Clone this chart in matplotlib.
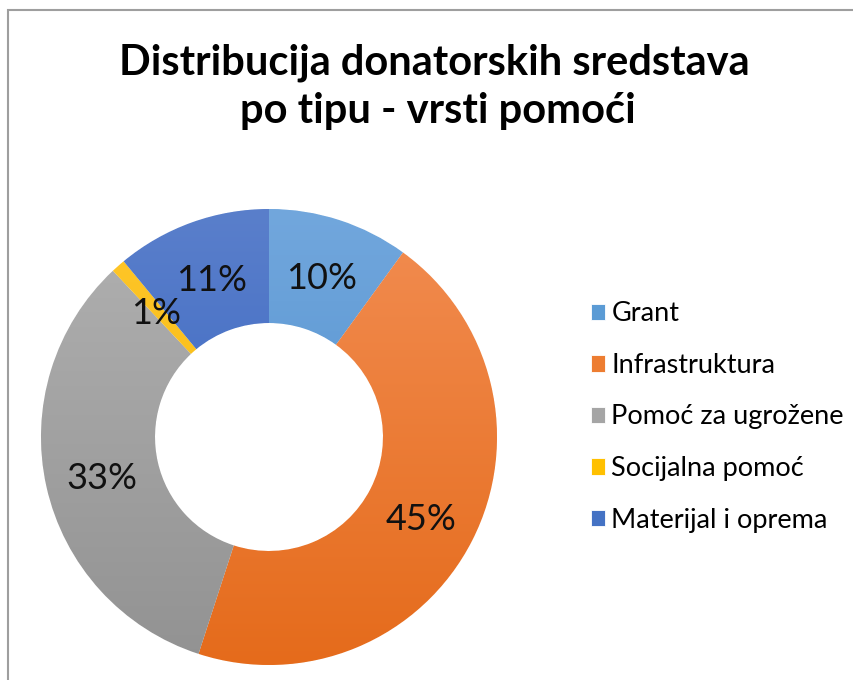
import matplotlib
matplotlib.use('Agg')
import matplotlib.pyplot as plt
import numpy as np
from matplotlib.colors import LinearSegmentedColormap
from matplotlib.patches import Rectangle

categories = ['Grant', 'Infrastruktura', 'Pomoć za ugrožene', 'Socijalna pomoć', 'Materijal i oprema']
shares = [10, 45, 33, 1, 11]
labels = ['10%', '45%', '33%', '1%', '11%']
# (top, bottom) shades for the Excel-like vertical gradient
top_cols = ['#72A7DD', '#F28D52', '#B1B1B1', '#FFC72C', '#5A7FCB']
bot_cols = ['#4589C9', '#E56B1B', '#929292', '#F2B400', '#2F5EBF']
mid_cols = ['#5B9BD5', '#ED7D31', '#A5A5A5', '#FFC000', '#4472C4']

plt.rcParams['font.family'] = ['Lato', 'DejaVu Sans']

W, H = 854, 680
fig = plt.figure(figsize=(W / 100, H / 100), dpi=100)
fig.patch.set_facecolor('white')

# outer frame (only top/left visible in the crop)
fig.patches.append(Rectangle((8 / W, -0.1), 1.2, 1 - 10 / H + 0.1, transform=fig.transFigure,
                             fill=False, edgecolor='#9E9E9E', linewidth=1.5))

cx, cy, r = 269, 437, 228
ax = fig.add_axes([(cx - r) / W, (H - cy - r) / H, 2 * r / W, 2 * r / H])
wedges, texts = ax.pie(shares, colors=mid_cols, startangle=90, counterclock=False,
                       radius=1, wedgeprops=dict(width=0.5, edgecolor='white', linewidth=0.6))

grad = np.linspace(0, 1, 256).reshape(-1, 1)
for w, t, b in zip(wedges, top_cols, bot_cols):
    cmap = LinearSegmentedColormap.from_list('g', [t, b])
    im = ax.imshow(grad, cmap=cmap, extent=(-1, 1, -1, 1), origin='upper', aspect='auto', zorder=2)
    im.set_clip_path(w)

for w, lab in zip(wedges, labels):
    ang = np.deg2rad((w.theta1 + w.theta2) / 2)
    ax.text(0.75 * np.cos(ang), 0.75 * np.sin(ang) - 0.02, lab, ha='center', va='center',
            fontsize=26, color='#111111', zorder=3)

ax.set_xlim(-1, 1)
ax.set_ylim(-1, 1)
ax.set_aspect('equal')
ax.axis('off')

fig.text(0.509, 1 - 63 / H, 'Distribucija donatorskih sredstava', ha='center', va='center',
         fontsize=30, fontweight='bold', color='black')
fig.text(0.513, 1 - 111 / H, 'po tipu - vrsti pomoći', ha='center', va='center',
         fontsize=30, fontweight='bold', color='black')

fig.legend(wedges, categories, loc='center left', bbox_to_anchor=(577 / W, 1 - 417 / H),
           frameon=False, fontsize=19.5, handlelength=0.55, handleheight=0.55,
           handletextpad=0.22, labelspacing=0.98, borderpad=0)

fig.savefig('out.png', dpi=100, facecolor='white')
